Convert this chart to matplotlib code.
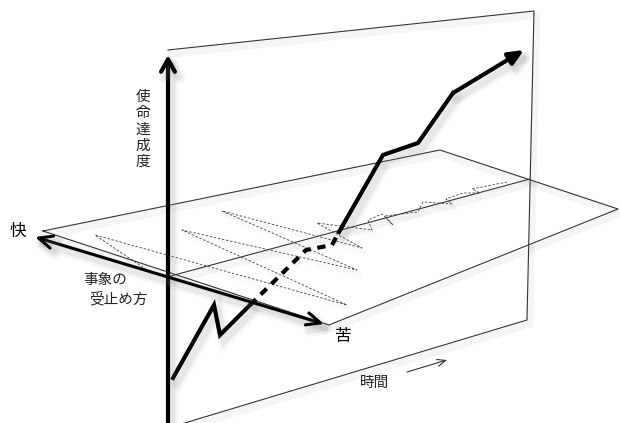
import matplotlib.pyplot as plt
import matplotlib.patheffects as pe

plt.rcParams['font.family'] = ['Noto Sans CJK JP', 'DejaVu Sans']

# 図の各要素の座標 (画像ピクセル座標, y は下向き)
vert_plane_x = [168, 534, 527, 168]
vert_plane_y = [50, 11, 320, 428]
horiz_plane_x = [43, 440, 618, 329]
horiz_plane_y = [231, 150, 209, 325]
time_axis_x = [167, 530]
time_axis_y = [277, 179]

growth_x = [173, 214, 220, 250]
growth_y = [378, 305, 335, 305]
hidden_x = [250, 306, 332, 339]
hidden_y = [305, 250, 245, 232]
upper_x = [339, 383, 418, 453]
upper_y = [232, 155, 143, 93]
growth_tip = (524, 50)

zigzag_x = [150, 95, 347, 182, 357, 222, 362, 317, 372, 368, 382, 393, 385,
            418, 423, 452, 446, 463, 480, 472, 507]
zigzag_y = [272, 235, 305, 230, 270, 211, 248, 223, 230, 220, 214, 225, 216,
            212, 202, 204, 199, 193, 193, 189, 182]

fig = plt.figure(figsize=(6.2, 4.23), dpi=100)
ax = fig.add_axes([0, 0, 1, 1])
ax.set_xlim(0, 620)
ax.set_ylim(423, 0)
ax.axis('off')

shadow = [pe.SimpleLineShadow(offset=(3, -4), shadow_color='gray', alpha=0.07,
                              linewidth=9),
          pe.SimpleLineShadow(offset=(3, -4), shadow_color='gray', alpha=0.12,
                              linewidth=5),
          pe.Normal()]
thin_shadow = [pe.SimpleLineShadow(offset=(2, -3), shadow_color='gray',
                                   alpha=0.08, linewidth=5),
               pe.Normal()]
dash_shadow = [pe.SimpleLineShadow(offset=(2, -3), shadow_color='gray',
                                   alpha=0.06, linewidth=3),
               pe.Normal()]

# 平面
ax.plot(vert_plane_x, vert_plane_y, color='#333333', lw=0.8,
        path_effects=thin_shadow)
ax.plot(horiz_plane_x + horiz_plane_x[:1], horiz_plane_y + horiz_plane_y[:1],
        color='#333333', lw=0.8, path_effects=thin_shadow)
ax.plot(time_axis_x, time_axis_y, color='#333333', lw=0.8,
        path_effects=thin_shadow)

# 平面上の投影 (点線)
ax.plot(zigzag_x, zigzag_y, color='#444444', lw=0.6, ls=(0, (3, 2)),
        path_effects=dash_shadow)

# 縦軸
ax.annotate('', xy=(168, 55), xytext=(168, 425),
            arrowprops=dict(arrowstyle='->,head_length=0.9,head_width=0.5',
                            lw=3, color='black', shrinkA=0, shrinkB=0,
                            path_effects=shadow))

# 快 - 苦 の軸
ax.annotate('', xy=(35, 237), xytext=(324, 324),
            arrowprops=dict(arrowstyle='<->,head_length=1.0,head_width=0.45',
                            lw=2.2, color='black', shrinkA=0, shrinkB=0,
                            path_effects=shadow))

# 使命達成度の推移
ax.plot(growth_x, growth_y, color='black', lw=3, solid_joinstyle='miter',
        path_effects=shadow)
ax.plot(hidden_x, hidden_y, color='black', lw=3, ls=(0, (2.0, 1.6)),
        path_effects=dash_shadow)
ax.plot(upper_x, upper_y, color='black', lw=3, path_effects=shadow)
ax.annotate('', xy=growth_tip, xytext=(upper_x[-1], upper_y[-1]),
            arrowprops=dict(arrowstyle='-|>,head_length=0.9,head_width=0.4',
                            lw=3, color='black', shrinkA=0, shrinkB=0,
                            path_effects=shadow))

# 時間の矢印
ax.annotate('', xy=(447, 360), xytext=(407, 372),
            arrowprops=dict(arrowstyle='->,head_length=0.6,head_width=0.25',
                            lw=0.8, color='#333333', shrinkA=0, shrinkB=0))

# ラベル
ax.text(18, 231, '快', fontsize=12, ha='center', va='center')
ax.text(343, 337, '苦', fontsize=12, ha='center', va='center')
ax.text(105, 280, '事象の', fontsize=10.5, ha='center', va='center', color='#222222')
ax.text(118, 299, '受止め方', fontsize=10.5, ha='center', va='center', color='#222222')
ax.text(375, 383, '時間', fontsize=10.5, ha='center', va='center', color='#222222')
for i, ch in enumerate('使命達成度'):
    ax.text(143, 97 + i * 16.3, ch, fontsize=10.5, ha='center', va='center',
            color='#222222')

fig.savefig('out.png', dpi=100)
